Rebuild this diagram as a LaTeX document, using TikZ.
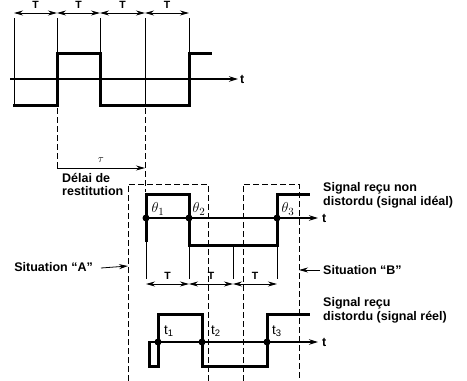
\documentclass[tikz,border=0pt]{standalone}
\usepackage{fontspec}
\setmainfont{Liberation Sans}
\usetikzlibrary{arrows.meta}
\begin{document}
\begin{tikzpicture}[x=1pt,y=-1pt,
  sig/.style={line width=3pt, line join=miter, line cap=rect},
  thinln/.style={line width=1pt},
  dashln/.style={line width=1pt, dash pattern=on 6pt off 3pt},
  axisln/.style={line width=1.5pt, -{Stealth[length=9pt,width=5.5pt]}},
  dimarr/.style={line width=0.8pt, {Stealth[length=9pt,width=5pt]}-{Stealth[length=9pt,width=5pt]}},
  onearr/.style={line width=0.8pt, -{Stealth[length=9pt,width=5pt]}},
  txt/.style={font=\fontsize{12.5}{14}\selectfont\bfseries, inner sep=0pt},
  tlbl/.style={font=\fontsize{10.5}{11}\selectfont\bfseries, inner sep=0pt},
  thl/.style={font=\fontsize{15}{16}\selectfont, inner sep=0pt},
  dot/.style={circle, fill=black, inner sep=0pt, minimum size=7pt}
]
\useasboundingbox (0,0) rectangle (467,381);

% ---------- top: emitted signal ----------
\foreach \n/\x in {a/14,b/57,c/100,d/145,e/189}{\coordinate (top\n) at (\x,18);}
\coordinate (lowA) at (14,105);
\coordinate (hiC) at (100,53);
\coordinate (hiE) at (189,53);
\draw[thinln] (topa) -- (lowA);
\draw[thinln] (topb) -- (57,105);
\draw[thinln] (topc) -- (hiC);
\draw[thinln] (topd) -- (145,105);
\draw[thinln] (tope) -- (hiE);
\foreach \p/\q in {a/b,b/c,c/d,d/e}{
  \draw[dimarr] ([yshift=5pt]top\p) -- node[tlbl, above=4pt] {T} ([yshift=5pt]top\q);
}
\coordinate (ax1s) at (10,79);
\coordinate (ax1e) at (238,79);
\draw[axisln] (ax1s) -- (ax1e);
\node[txt, anchor=west] (t1lab) at (240,79) {t};
\draw[sig] (lowA) -- (57,105) -- (57,53) -- (hiC) -- (100,105) -- (189,105) -- (hiE) -- (210,53);

% dashed continuations
\coordinate (tauS) at (57,168);
\coordinate (tauE) at (145,168);
\draw[dashln] (57,108) -- (tauS);
\draw[dashln] (145,108) -- (145,192);

% delay
\draw[onearr] (tauS) -- node[above=2pt, font=\fontsize{11}{12}\selectfont] {$\tau$} (tauE);
\node[txt, anchor=west] (delai) at (62,178) {Délai de};
\node[txt, anchor=west] (restit) at (62,191) {restitution};

% ---------- dashed windows ----------
\draw[dashln] (128,381) -- (128,184) -- (208,184) -- (208,381);
\draw[dashln] (243,381) -- (243,184) -- (299,184) -- (299,381);

% ---------- middle: ideal received signal ----------
\coordinate (ax2s) at (146,218);
\coordinate (ax2e) at (318,218);
\draw[axisln] (ax2s) -- (ax2e);
\node[txt, anchor=west] (t2lab) at (322,218) {t};
\draw[sig] (146,240) -- (146,194) -- (189,194) -- (189,245) -- (277,245) -- (277,194) -- (308,194);
\node[dot] (th1) at (146,218) {};
\node[dot] (th2) at (189,218) {};
\node[dot] (th3) at (277,218) {};
\node[thl] at (158,209) {$\theta_1$};
\node[thl] at (199,209) {$\theta_2$};
\node[thl] at (288,209) {$\theta_3$};
\node[txt, anchor=west] (sig1a) at (323,188) {Signal reçu non};
\node[txt, anchor=west] (sig1b) at (323,202) {distordu (signal idéal)};

% period ticks
\foreach \n/\x/\y in {p/146/241,q/189/246,r/233/246,s/277/246}{
  \coordinate (tk\n) at (\x,279);
  \draw[thinln] (\x,\y) -- (tk\n);
}
\foreach \p/\q in {p/q,q/r,r/s}{
  \draw[dimarr] ([yshift=-5pt]tk\p) -- node[tlbl, above=4pt] {T} ([yshift=-5pt]tk\q);
}

% situations
\node[txt, anchor=east] (sitA) at (93,267) {Situation “A”};
\coordinate (wA) at (128,266);
\draw[onearr] (sitA.east) ++(8pt,-1pt) -- (wA);
\node[txt, anchor=west] (sitB) at (323,270) {Situation “B”};
\coordinate (wB) at (299,270);
\draw[onearr] (sitB.west) ++(-3pt,0) -- (wB);

% ---------- bottom: real received signal ----------
\coordinate (ax3s) at (149,342);
\coordinate (ax3e) at (318,342);
\draw[axisln] (ax3s) -- (ax3e);
\node[txt, anchor=west] (t3lab) at (322,342) {t};
\draw[sig] (149,342) -- (149,366) -- (158,366) -- (158,314) -- (202,314) -- (202,366) -- (267,366) -- (267,314) -- (308,314);
\node[dot] (r1) at (158,342) {};
\node[dot] (r2) at (202,342) {};
\node[dot] (r3) at (267,342) {};
\node[txt, font=\fontsize{13.5}{14}\selectfont] at (169,331) {t\textsubscript{1}};
\node[txt, font=\fontsize{13.5}{14}\selectfont] at (216,331) {t\textsubscript{2}};
\node[txt, font=\fontsize{13.5}{14}\selectfont] at (277,331) {t\textsubscript{3}};
\node[txt, anchor=west] (sig2a) at (323,303) {Signal reçu};
\node[txt, anchor=west] (sig2b) at (323,317) {distordu (signal réel)};
\end{tikzpicture}
\end{document}
